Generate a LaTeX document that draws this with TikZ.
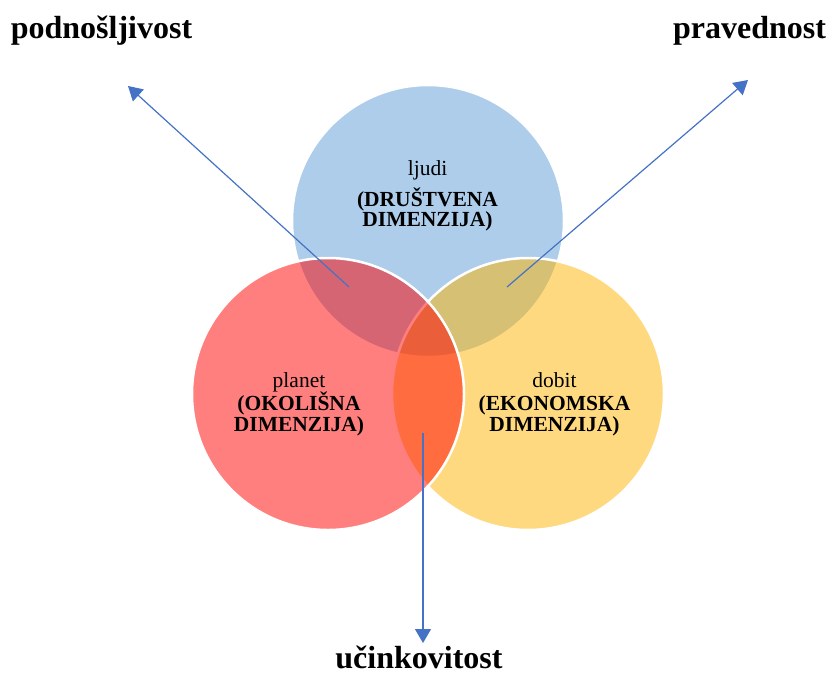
\documentclass[tikz,border=0pt]{standalone}
\usepackage{fontspec}
\setmainfont{Liberation Serif}
\usetikzlibrary{arrows.meta}
\definecolor{vblue}{HTML}{5B9BD5}
\definecolor{vred}{HTML}{FF0000}
\definecolor{vyellow}{HTML}{FFB400}
\definecolor{arrowblue}{HTML}{4472C4}
\tikzset{
  venn/.style={circle, minimum size=272pt, inner sep=0pt, outer sep=0pt,
    fill opacity=0.5, draw=white, line width=2.5pt},
  inner/.style={anchor=base, inner sep=0pt, font=\fontsize{21.5}{21.5}\selectfont},
  innerbf/.style={inner, font=\fontsize{21.5}{21.5}\selectfont\bfseries},
  title/.style={anchor=base, inner sep=0pt, font=\fontsize{32}{32}\selectfont\bfseries},
  arr/.style={draw=arrowblue, line width=1.2pt, -{Triangle[length=14pt,width=16pt]}}
}
\begin{document}
\begin{tikzpicture}[x=1pt,y=-1pt]
\useasboundingbox (0,0) rectangle (829,675);
% circles
\node[venn, fill=vblue] (ljudi) at (428,221) {};
\node[venn, fill=vyellow] (dobit) at (528,394) {};
\node[venn, fill=vred] (planet) at (328,394) {};
% labels inside circles
\node[inner] (l1) at (427.5,175) {ljudi};
\node[innerbf] (l2) at (427.5,206) {(DRUŠTVENA};
\node[innerbf] (l3) at (427.5,226) {DIMENZIJA)};
\node[inner] (p1) at (299,387) {planet};
\node[innerbf] (p2) at (299,410) {(OKOLIŠNA};
\node[innerbf] (p3) at (299,431) {DIMENZIJA)};
\node[inner] (d1) at (554.5,387) {dobit};
\node[innerbf] (d2) at (554.5,410) {(EKONOMSKA};
\node[innerbf] (d3) at (554.5,431) {DIMENZIJA)};
% titles
\node[title] (podn) at (101.5,38) {podnošljivost};
\node[title] (prav) at (749.5,38) {pravednost};
\node[title] (ucin) at (419,668) {učinkovitost};
% arrow coordinates
\coordinate (s1) at (349,287);
\coordinate (t1) at (128,86);
\coordinate (s2) at (507,287);
\coordinate (t2) at (748,80);
\coordinate (s3) at (423,433);
\coordinate (t3) at (423,643);
\draw[arr] (s1) -- (t1);
\draw[arr] (s2) -- (t2);
\draw[arr] (s3) -- (t3);
\end{tikzpicture}
\end{document}
